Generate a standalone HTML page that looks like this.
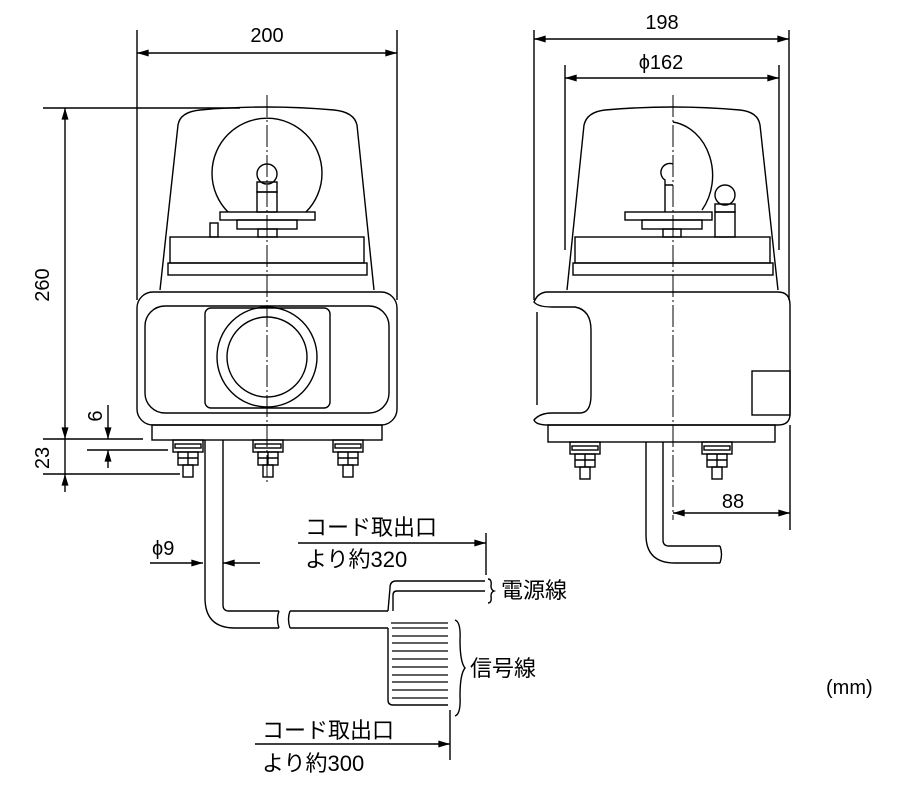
<!DOCTYPE html>
<html><head><meta charset="utf-8"><style>
html,body{margin:0;padding:0;background:#fff;}
svg{display:block;}
text{font-family:"Liberation Sans","Noto Sans CJK JP",sans-serif;fill:#000;}
</style></head><body>
<svg width="910" height="802" viewBox="0 0 910 802" xmlns="http://www.w3.org/2000/svg">
<defs>
<marker id="a" viewBox="0 0 10 6" refX="10" refY="3" markerWidth="12" markerHeight="7" markerUnits="userSpaceOnUse" orient="auto-start-reverse"><path d="M0,0L10,3L0,6z" fill="#000"/></marker>
</defs>
<g fill="none" stroke="#000" stroke-width="1.4">
<line x1="137" y1="30" x2="137" y2="300"/>
<line x1="397" y1="30" x2="397" y2="300"/>
<line x1="137" y1="53" x2="397" y2="53" marker-start="url(#a)" marker-end="url(#a)"/>
<line x1="43" y1="108" x2="240" y2="108"/>
<line x1="65" y1="108" x2="65" y2="439" marker-start="url(#a)" marker-end="url(#a)"/>
<line x1="43" y1="439" x2="143" y2="439"/>
<line x1="87" y1="450" x2="168" y2="450"/>
<line x1="43" y1="474" x2="180" y2="474"/>
<line x1="65" y1="439" x2="65" y2="474"/>
<line x1="65" y1="474" x2="65" y2="492" marker-start="url(#a)"/>
<line x1="108" y1="405" x2="108" y2="439" marker-end="url(#a)"/>
<line x1="108" y1="468" x2="108" y2="450" marker-end="url(#a)"/>
<line x1="267" y1="95" x2="267" y2="485" stroke-width="1" stroke-dasharray="22,3,2,3"/>
<path d="M160,290 L178,125 Q180,112 200,110 Q267,104 334,110 Q354,112 357,125 L374,290"/>
<rect x="170" y="237" width="194" height="26"/>
<rect x="168" y="263" width="199" height="12"/>
<path d="M228,212 A55,55 0 1 1 306,212"/>
<rect x="220" y="212" width="95" height="8"/>
<rect x="237" y="220" width="60" height="9"/>
<rect x="258" y="229" width="19" height="8"/>
<circle cx="267" cy="174" r="10"/>
<rect x="257" y="182" width="20" height="10"/>
<rect x="257" y="192" width="20" height="20"/>
<rect x="210" y="223" width="8" height="14"/>
<rect x="137" y="292" width="260" height="133" rx="16"/>
<rect x="145" y="306" width="244" height="107" rx="20"/>
<rect x="205" y="308" width="125" height="100" rx="6"/>
<circle cx="267" cy="357" r="50"/>
<circle cx="267" cy="357" r="40"/>
<rect x="152" y="425" width="230" height="15"/>
<g id="nut">
<rect x="173" y="440" width="30" height="12"/>
<rect x="175" y="444" width="26" height="4"/>
<rect x="178" y="452" width="20" height="13"/>
<line x1="188" y1="452" x2="188" y2="465"/>
<line x1="178" y1="458" x2="198" y2="458"/>
<rect x="183" y="465" width="10" height="12"/>
</g>
<use href="#nut" x="80"/>
<use href="#nut" x="160"/>
<path d="M205,440 L205,598 Q205,628 235,628 L279,628"/>
<path d="M223,440 L223,605 Q223,611 229,611 L279,611"/>
<path d="M279,611 q-3,8 0,17"/>
<path d="M290,611 L388,611 M290,628 L388,628 M290,611 q-3,8 0,17"/>
<line x1="150" y1="563" x2="203" y2="563" marker-end="url(#a)"/>
<line x1="260" y1="563" x2="223" y2="563" marker-end="url(#a)"/>
<path d="M388,611 L390,588 Q390,581 396,581 L485,581"/>
<path d="M393,611 L393,595 Q393,591 397,591 L485,591"/>
<path d="M388,628 L388,700 Q388,705 393,705 L448,705"/>
<g stroke-width="1.2">
<path d="M392,628 L448,628 M392,636 L448,636 M392,643 L448,643 M392,651 L448,651 M392,659 L448,659 M392,667 L448,667 M392,675 L448,675 M392,682 L448,682 M392,690 L448,690 M392,698 L448,698"/>
<path d="M391,623 L448,623"/>
</g>
<path d="M455,620 q6,2 5,20 q0,22 5,28 q-5,6 -5,28 q1,18 -5,20"/>
<path d="M488,579 q4,0 3,7 q0,4 3,5 q-3,1 -3,5 q1,7 -3,7"/>
<line x1="298" y1="543" x2="486" y2="543" marker-end="url(#a)"/>
<line x1="486" y1="533" x2="486" y2="575"/>
<line x1="255" y1="744" x2="450" y2="744" marker-end="url(#a)"/>
<line x1="450" y1="710" x2="450" y2="760"/>
<line x1="534" y1="30" x2="534" y2="300"/>
<line x1="789" y1="30" x2="789" y2="300"/>
<line x1="534" y1="39" x2="789" y2="39" marker-start="url(#a)" marker-end="url(#a)"/>
<line x1="565" y1="65" x2="565" y2="250"/>
<line x1="779" y1="65" x2="779" y2="250"/>
<line x1="565" y1="78" x2="779" y2="78" marker-start="url(#a)" marker-end="url(#a)"/>
<line x1="673" y1="95" x2="673" y2="520" stroke-width="1" stroke-dasharray="22,3,2,3"/>
<path d="M567,290 L584,125 Q587,112 605,110 Q673,104 740,110 Q758,112 760,125 L778,290"/>
<rect x="575" y="237" width="195" height="26"/>
<rect x="573" y="263" width="200" height="12"/>
<path d="M673,122 A46,54 0 0 1 702,210"/>
<rect x="625" y="212" width="87" height="8"/>
<rect x="642" y="220" width="60" height="9"/>
<rect x="663" y="229" width="18" height="8"/>
<path d="M673,164 A9,9 0 0 0 665,180 L665,212 M665,185 L673,185"/>
<circle cx="725" cy="195" r="10"/>
<rect x="715" y="204" width="20" height="8"/>
<rect x="715" y="212" width="20" height="25"/>
<path d="M548,292 L778,292 Q790,292 790,305 L790,414 Q790,425 778,425 L548,425 Q536,425 534,420 Q540,413 552,413 L580,413 Q591,413 591,395 L591,330 Q591,310 575,307 L552,307 Q538,307 534,302 Q538,292 548,292 Z"/>
<path d="M537,312 L537,405"/>
<rect x="752" y="371" width="38" height="44"/>
<rect x="548" y="425" width="227" height="17"/>
<use href="#nut" x="397" y="2"/>
<use href="#nut" x="529" y="2"/>
<path d="M646,442 L646,535 Q646,563 675,563 L720,563"/>
<path d="M663,442 L663,540 Q663,546 669,546 L720,546"/>
<path d="M720,546 q3,8 0,17"/>
<line x1="790" y1="425" x2="790" y2="530"/>
<line x1="673" y1="513" x2="790" y2="513" marker-start="url(#a)" marker-end="url(#a)"/>
</g>
<g font-size="20">
<text x="267" y="42" text-anchor="middle">200</text>
<text x="662" y="29" text-anchor="middle">198</text>
<text x="661" y="69" text-anchor="middle">ϕ162</text>
<text x="733" y="508" text-anchor="middle">88</text>
<text transform="translate(49,285) rotate(-90)" text-anchor="middle">260</text>
<text transform="translate(49,458) rotate(-90)" text-anchor="middle">23</text>
<text transform="translate(102,416) rotate(-90)" text-anchor="middle">6</text>
<text x="152" y="555">ϕ9</text>
<text x="826" y="694">(mm)</text>
</g>
<g font-size="22">
<text x="305" y="535">コード取出口</text>
<text x="305" y="567">より約320</text>
<text x="501" y="598">電源線</text>
<text x="470" y="676">信号線</text>
<text x="262" y="738">コード取出口</text>
<text x="262" y="771">より約300</text>
</g>
</svg>
</body></html>
